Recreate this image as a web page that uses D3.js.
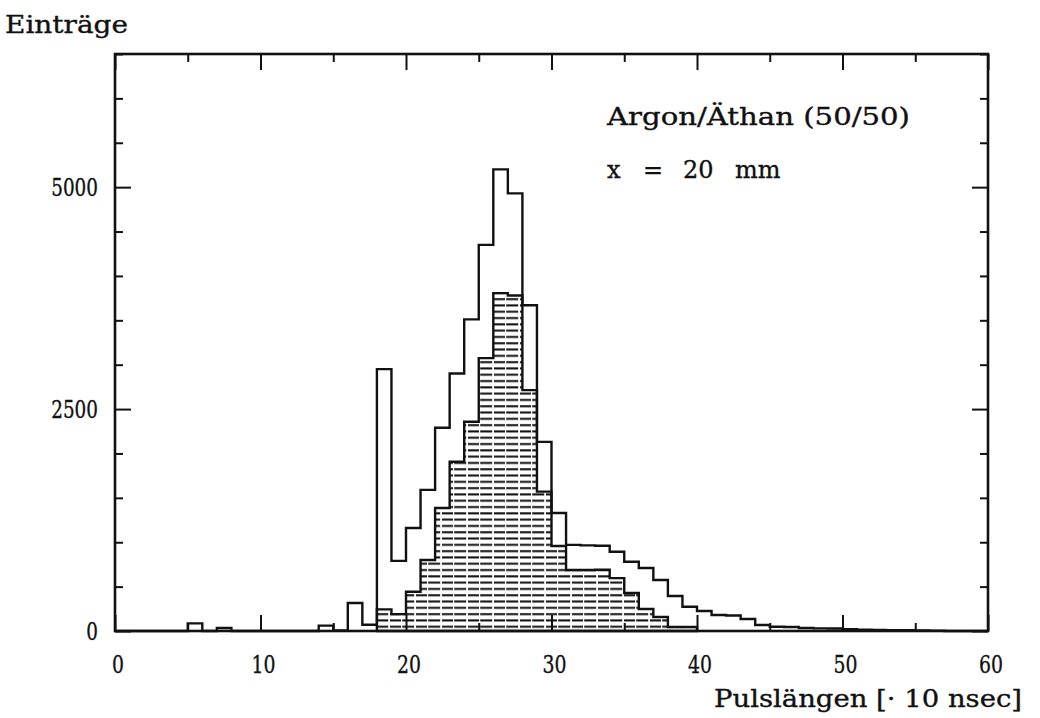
<!DOCTYPE html>
<html>
<head>
<meta charset="utf-8">
<script src="https://cdn.jsdelivr.net/npm/d3@7"></script>
<style>
  body { margin: 0; background: #fff; }
  text { font-family: "DejaVu Serif", serif; fill: #111; stroke: #111; stroke-width: 0.35; }
</style>
</head>
<body>
<script>
// Bin lower edges (unit = 10 nsec), 1 unit wide
var binEdges = d3.range(0, 60);

// Outer histogram (tall, unhatched)
var countsAll = [0, 0, 0, 0, 0, 86, 0, 34, 0, 0,
                 0, 0, 0, 0, 60, 5, 315, 70, 2950, 790,
                 1160, 1590, 2290, 2900, 3510, 4350, 5200, 4930, 3670, 2130,
                 1330, 970, 965, 960, 893, 780, 709, 574, 394, 274,
                 225, 180, 175, 135, 68, 48, 45, 34, 30, 28,
                 20, 15, 12, 10, 8, 5, 3, 0, 0, 0];

// Hatched histogram, bins 18..39
var hatchStart = 18;
var countsHatched = [244, 190, 443, 800, 1385, 1907, 2357, 3074, 3806, 3780,
                     2714, 1570, 957, 687, 687, 690, 596, 428, 248, 158,
                     45, 45];

var xTicks = d3.range(0, 61, 5);
var yTicks = d3.range(0, 6501, 500);
var xLabels = [0, 10, 20, 30, 40, 50, 60];
var yLabels = [0, 2500, 5000];

var yTitle = "Einträge",
    xTitle = "Pulslängen [· 10 nsec]",
    note1 = "Argon/Äthan (50/50)",
    note2 = ["x", "=", "20", "mm"];

function drawChart(){

  var W = 1040, H = 718;
  var left = 115, right = 988, top = 54, bottom = 631;

  var svg = d3.select("body")
      .append("svg")
      .attr("width", W)
      .attr("height", H);

  var x = d3.scaleLinear().domain([0, 60]).range([left, right]);
  var y = d3.scaleLinear().domain([0, 6500]).range([bottom, top]);

  // horizontal hatch
  var defs = svg.append("defs");
  var pat = defs.append("pattern")
      .attr("id", "hatch")
      .attr("patternUnits", "userSpaceOnUse")
      .attr("width", 26)
      .attr("height", 6.3);
  pat.append("line")
      .attr("x1", 0).attr("x2", 26)
      .attr("y1", 3.1).attr("y2", 3.1)
      .attr("stroke", "#111")
      .attr("stroke-width", 2)
      .attr("stroke-dasharray", "11 1.2 12 1.8");

  var step = d3.line()
      .x(function(d){ return x(d[0]); })
      .y(function(d){ return y(d[1]); })
      .curve(d3.curveStepAfter);

  function stepPoints(start, vals){
    var pts = [[start, 0]];
    vals.forEach(function(v, i){ pts.push([start + i, v]); });
    pts.push([start + vals.length, 0]);
    return pts;
  }

  // hatched histogram
  svg.append("path")
      .attr("d", step(stepPoints(hatchStart, countsHatched)) + "Z")
      .attr("fill", "url(#hatch)")
      .attr("stroke", "#111")
      .attr("stroke-width", 2.4);

  // outer histogram
  svg.append("path")
      .attr("d", step(stepPoints(binEdges[0], countsAll)))
      .attr("fill", "none")
      .attr("stroke", "#111")
      .attr("stroke-width", 2.4);

  // frame
  svg.append("rect")
      .attr("x", left).attr("y", top)
      .attr("width", right - left)
      .attr("height", bottom - top)
      .attr("fill", "none")
      .attr("stroke", "#111")
      .attr("stroke-width", 2.6);

  // x ticks, bottom (up) and top (down)
  var xAxisB = svg.append("g")
      .attr("transform", "translate(0," + bottom + ")")
      .call(d3.axisBottom(x).tickValues(xTicks).tickSize(0).tickFormat(""));
  xAxisB.select(".domain").remove();
  xAxisB.selectAll(".tick line")
      .attr("y2", function(d){ return d % 10 === 0 ? -16 : -8; })
      .attr("stroke", "#111").attr("stroke-width", 2);

  var xAxisT = svg.append("g")
      .attr("transform", "translate(0," + top + ")")
      .call(d3.axisTop(x).tickValues(xTicks).tickSize(0).tickFormat(""));
  xAxisT.select(".domain").remove();
  xAxisT.selectAll(".tick line")
      .attr("y2", function(d){ return d % 10 === 0 ? 16 : 8; })
      .attr("stroke", "#111").attr("stroke-width", 2);

  // y ticks, left (right) and right (left)
  var yAxisL = svg.append("g")
      .attr("transform", "translate(" + left + ",0)")
      .call(d3.axisLeft(y).tickValues(yTicks).tickSize(0).tickFormat(""));
  yAxisL.select(".domain").remove();
  yAxisL.selectAll(".tick line")
      .attr("x2", function(d){ return d % 2500 === 0 ? 16 : 8; })
      .attr("stroke", "#111").attr("stroke-width", 2);

  var yAxisR = svg.append("g")
      .attr("transform", "translate(" + right + ",0)")
      .call(d3.axisRight(y).tickValues(yTicks).tickSize(0).tickFormat(""));
  yAxisR.select(".domain").remove();
  yAxisR.selectAll(".tick line")
      .attr("x2", function(d){ return d % 2500 === 0 ? -16 : -8; })
      .attr("stroke", "#111").attr("stroke-width", 2);

  // tick labels
  svg.selectAll("text.xl")
      .data(xLabels)
      .enter().append("text")
      .attr("class", "xl")
      .attr("x", function(d){ return x(d) + 3; })
      .attr("y", 673)
      .attr("text-anchor", "middle")
      .attr("font-size", 24)
      .attr("textLength", function(d){ return String(d).length * 12; })
      .attr("lengthAdjust", "spacingAndGlyphs")
      .text(function(d){ return d; });

  svg.selectAll("text.yl")
      .data(yLabels)
      .enter().append("text")
      .attr("class", "yl")
      .attr("x", 98)
      .attr("y", function(d){ return y(d) + 9; })
      .attr("text-anchor", "end")
      .attr("font-size", 24)
      .attr("textLength", function(d){ return String(d).length * 11.7; })
      .attr("lengthAdjust", "spacingAndGlyphs")
      .text(function(d){ return d; });

  // titles
  svg.append("text")
      .attr("x", 5).attr("y", 33)
      .attr("font-size", 24)
      .attr("textLength", 123)
      .attr("lengthAdjust", "spacingAndGlyphs")
      .text(yTitle);

  svg.append("text")
      .attr("x", 714).attr("y", 707)
      .attr("font-size", 24)
      .attr("textLength", 308)
      .attr("lengthAdjust", "spacingAndGlyphs")
      .text(xTitle);

  svg.append("text")
      .attr("x", 607).attr("y", 125)
      .attr("font-size", 24)
      .attr("textLength", 303)
      .attr("lengthAdjust", "spacingAndGlyphs")
      .text(note1);

  var n2x = [607, 643, 683, 735];
  svg.append("text")
      .attr("y", 178)
      .attr("font-size", 24)
      .selectAll("tspan")
      .data(note2)
      .enter().append("tspan")
      .attr("x", function(d, i){ return n2x[i]; })
      .text(function(d){ return d; });
}
drawChart();
</script>
</body>
</html>
